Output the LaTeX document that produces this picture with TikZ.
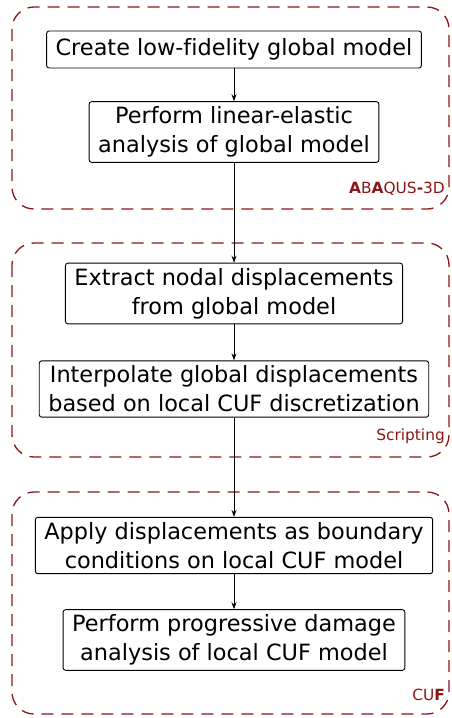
\documentclass[tikz,border=0pt]{standalone}
\usepackage{fontspec}
\setmainfont{DejaVu Sans}[Ligatures=NoCommon]
\usetikzlibrary{arrows.meta}

\definecolor{grpred}{RGB}{140,22,22}

\begin{document}
\begin{tikzpicture}[
  x=1pt, y=-1pt,
  >={Stealth[length=7pt,width=5pt]},
  step box/.style={draw, rounded corners=2.5pt, line width=0.9pt, align=center,
    font=\fontsize{22.4}{29}\selectfont, inner xsep=9pt, inner ysep=5pt,
    minimum height=37pt},
  group box/.style={draw=grpred, line width=1.3pt, rounded corners=22pt,
    dash pattern=on 12pt off 8pt},
  group label/.style={anchor=south east, text=grpred,
    font=\fontsize{15.4}{18}\selectfont, inner sep=0pt},
]
% Coordinate system: pixels of the 451x718 sketch, y pointing down
\useasboundingbox (0,0) rectangle (451,718);

% --- Groups ---
\draw[group box] (12,7)   rectangle (449,209);
\draw[group box] (12,243) rectangle (449,457);
\draw[group box] (12,492) rectangle (449,714);

\node[group label] (abaqus)    at (445,196) {\textbf{A}B\textbf{A}QUS\textbf{-}3D};
\node[group label] (scripting) at (445,444) {Scripting};
\node[group label] (cuf)       at (445,701) {CU\textbf{F}};

% --- Steps ---
\node[step box] (create) at (234,49.5) {Create low-fidelity global model};
\node[step box] (linear) at (234,132)  {Perform linear-elastic\\analysis of global model};
\node[step box] (extract) at (234,293.5) {Extract nodal displacements\\from global model};
\node[step box] (interp) at (234,389)  {Interpolate global displacements\\based on local CUF discretization};
\node[step box] (apply)  at (234,545.5) {Apply displacements as boundary\\conditions on local CUF model};
\node[step box] (damage) at (234,640)  {Perform progressive damage\\analysis of local CUF model};

% --- Flow ---
\foreach \a/\b in {create/linear, linear/extract, extract/interp,
                   interp/apply, apply/damage}
  \draw[->, line width=0.9pt] (\a) -- (\b);

\end{tikzpicture}
\end{document}
